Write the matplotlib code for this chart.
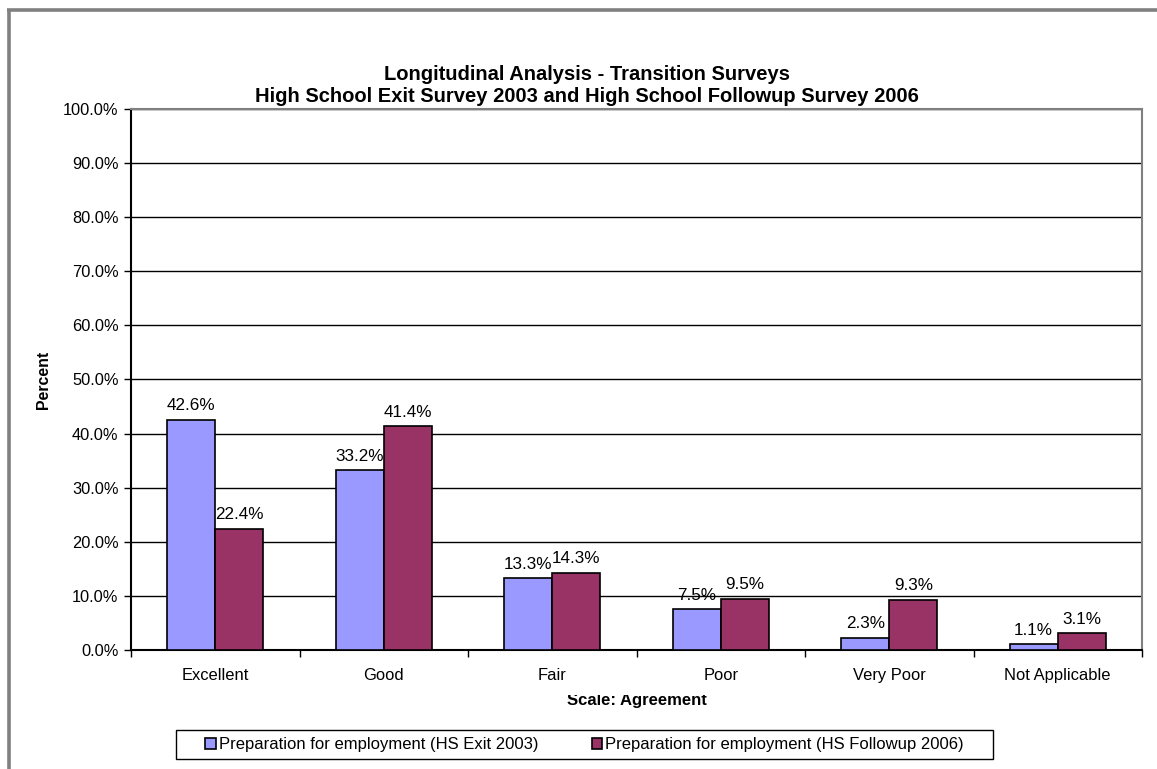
import matplotlib
matplotlib.use("Agg")
import matplotlib.pyplot as plt
import numpy as np
from matplotlib.transforms import Bbox, TransformedBbox
from matplotlib.lines import Line2D
from matplotlib.patches import Rectangle

categories = ["Excellent", "Good", "Fair", "Poor", "Very Poor", "Not Applicable"]
exit_2003 = [42.6, 33.2, 13.3, 7.5, 2.3, 1.1]
followup_2006 = [22.4, 41.4, 14.3, 9.5, 9.3, 3.1]
series_names = ["Preparation for employment (HS Exit 2003)",
                "Preparation for employment (HS Followup 2006)"]
y_ticks = [0, 10, 20, 30, 40, 50, 60, 70, 80, 90, 100]

plt.rcParams["font.family"] = ["Liberation Sans", "DejaVu Sans"]

W, H = 1157, 769
fig = plt.figure(figsize=(W / 100, H / 100), dpi=100)
fig.patch.set_facecolor("white")

# outer chart frame (left and top edges)
fig.add_artist(Line2D([8.5 / W, 8.5 / W], [0, 1 - 8.5 / H], color="#808080", lw=2.6,
                      transform=fig.transFigure, solid_capstyle="butt"))
fig.add_artist(Line2D([7 / W, 1], [1 - 9.5 / H, 1 - 9.5 / H], color="#808080", lw=2.6,
                      transform=fig.transFigure, solid_capstyle="butt"))

left, right, top, bottom = 131, 1142, 109, 650
ax = fig.add_axes([left / W, 1 - bottom / H, (right - left) / W, (bottom - top) / H])

n = len(categories)
x = np.arange(n)
bw = 1 / 3.5
blue = "#9999FF"
red = "#993366"
ax.bar(x - bw / 2, exit_2003, width=bw, color=blue, edgecolor="black", lw=1.2, zorder=3,
       label=series_names[0])
ax.bar(x + bw / 2, followup_2006, width=bw, color=red, edgecolor="black", lw=1.2, zorder=3,
       label=series_names[1])

for xi, v in zip(x, exit_2003):
    ax.text(xi - bw / 2, v + 1.2, f"{v:.1f}%", ha="center", va="bottom", fontsize=12.3, zorder=4)
for xi, v in zip(x, followup_2006):
    ax.text(xi + bw / 2, v + 1.2, f"{v:.1f}%", ha="center", va="bottom", fontsize=12.3, zorder=4)

ax.set_xlim(-0.5, n - 0.5)
ax.set_ylim(0, 100)
ax.set_yticks(y_ticks)
ax.set_yticklabels([f"{t:.1f}%" for t in y_ticks], fontsize=11.8)
ax.yaxis.grid(True, color="black", lw=1.0, zorder=0)
ax.set_axisbelow(True)

ax.set_xticks(np.arange(-0.5, n, 1.0))
ax.set_xticklabels([])
ax.set_xticks(x, minor=True)
ax.set_xticklabels(categories, minor=True, fontsize=11.9)
ax.tick_params(axis="x", which="major", direction="out", length=5, width=1, color="black")
ax.tick_params(axis="x", which="minor", length=0, pad=13)
ax.tick_params(axis="y", direction="out", length=5, width=1, pad=4)

for side in ("top", "right"):
    ax.spines[side].set_color("#808080")
    ax.spines[side].set_linewidth(1.5)
for side in ("left", "bottom"):
    ax.spines[side].set_color("black")
    ax.spines[side].set_linewidth(1.5)

fig.text(587 / W, 1 - 74 / H, "Longitudinal Analysis - Transition Surveys",
         ha="center", va="center", fontsize=14.5, fontweight="bold")
fig.text(587 / W, 1 - 97 / H, "High School Exit Survey 2003 and High School Followup Survey 2006",
         ha="center", va="center", fontsize=14.5, fontweight="bold")

fig.text(44 / W, 1 - 380 / H, "Percent", rotation=90, ha="center", va="center",
         fontsize=11.4, fontweight="bold")

xl = fig.text(637 / W, 1 - 700 / H, "Scale: Agreement", ha="center", va="center",
              fontsize=12, fontweight="bold")
xl.set_clip_box(TransformedBbox(Bbox([[0, 0], [1, 1 - 695 / H]]), fig.transFigure))
xl.set_clip_on(True)

# legend box drawn separately so its padding can be set in pixels
fig.add_artist(Rectangle((176 / W, 1 - 759 / H), (993 - 176) / W, (759 - 730) / H,
                         transform=fig.transFigure, facecolor="white", edgecolor="black",
                         lw=1.0, zorder=5))
leg = fig.legend(loc="center", bbox_to_anchor=(584.5 / W, 1 - 744.5 / H), ncol=2,
                 fontsize=12, frameon=False,
                 handlelength=0.65, handleheight=0.65, handletextpad=0.15,
                 columnspacing=3.2, borderpad=0.0, borderaxespad=0.0)
leg.set_zorder(6)

fig.savefig("out.png", dpi=100, facecolor="white")
